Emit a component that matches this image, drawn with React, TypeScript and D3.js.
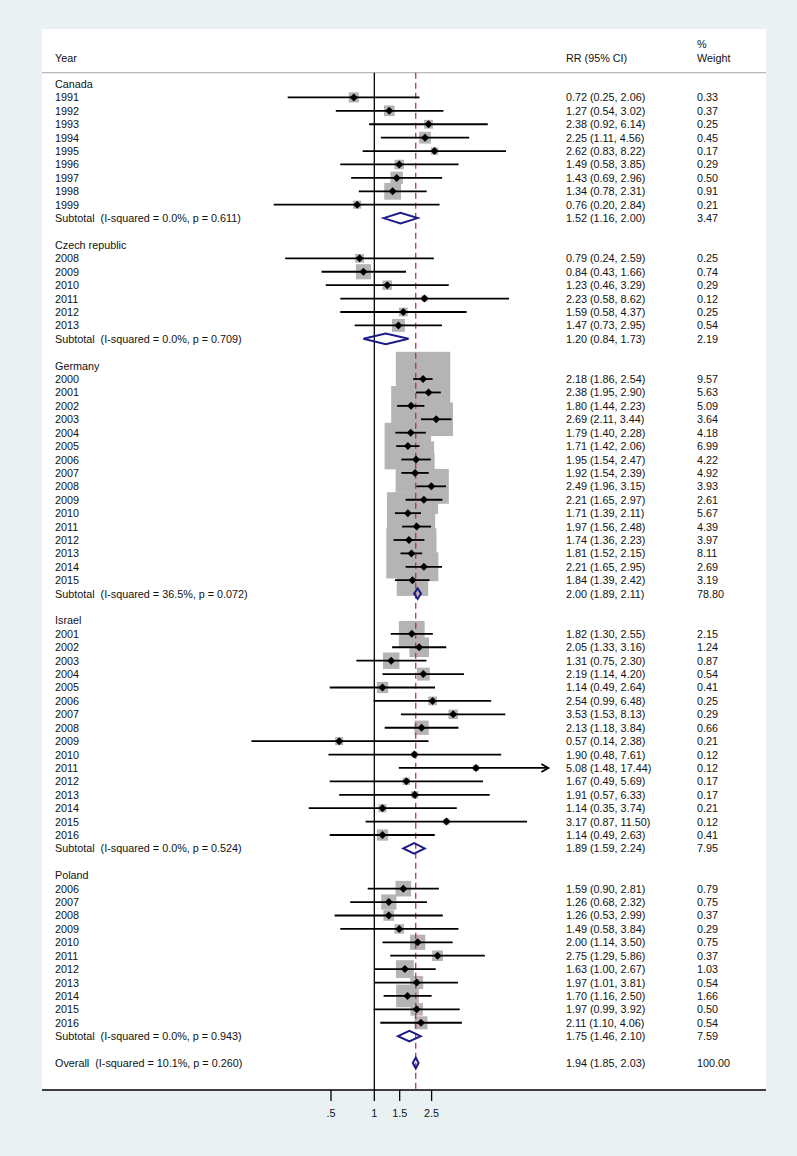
import React from "react";
import * as d3 from "d3";

type Study = { year: string; rr: number; lo: number; hi: number; w: number };
type Pooled = { label: string; rr: number; lo: number; hi: number; w: number };

const canada: Study[] = [
  { year: "1991", rr: 0.72, lo: 0.25, hi: 2.06, w: 0.33 },
  { year: "1992", rr: 1.27, lo: 0.54, hi: 3.02, w: 0.37 },
  { year: "1993", rr: 2.38, lo: 0.92, hi: 6.14, w: 0.25 },
  { year: "1994", rr: 2.25, lo: 1.11, hi: 4.56, w: 0.45 },
  { year: "1995", rr: 2.62, lo: 0.83, hi: 8.22, w: 0.17 },
  { year: "1996", rr: 1.49, lo: 0.58, hi: 3.85, w: 0.29 },
  { year: "1997", rr: 1.43, lo: 0.69, hi: 2.96, w: 0.5 },
  { year: "1998", rr: 1.34, lo: 0.78, hi: 2.31, w: 0.91 },
  { year: "1999", rr: 0.76, lo: 0.2, hi: 2.84, w: 0.21 },
];
const czech: Study[] = [
  { year: "2008", rr: 0.79, lo: 0.24, hi: 2.59, w: 0.25 },
  { year: "2009", rr: 0.84, lo: 0.43, hi: 1.66, w: 0.74 },
  { year: "2010", rr: 1.23, lo: 0.46, hi: 3.29, w: 0.29 },
  { year: "2011", rr: 2.23, lo: 0.58, hi: 8.62, w: 0.12 },
  { year: "2012", rr: 1.59, lo: 0.58, hi: 4.37, w: 0.25 },
  { year: "2013", rr: 1.47, lo: 0.73, hi: 2.95, w: 0.54 },
];
const germany: Study[] = [
  { year: "2000", rr: 2.18, lo: 1.86, hi: 2.54, w: 9.57 },
  { year: "2001", rr: 2.38, lo: 1.95, hi: 2.9, w: 5.63 },
  { year: "2002", rr: 1.8, lo: 1.44, hi: 2.23, w: 5.09 },
  { year: "2003", rr: 2.69, lo: 2.11, hi: 3.44, w: 3.64 },
  { year: "2004", rr: 1.79, lo: 1.4, hi: 2.28, w: 4.18 },
  { year: "2005", rr: 1.71, lo: 1.42, hi: 2.06, w: 6.99 },
  { year: "2006", rr: 1.95, lo: 1.54, hi: 2.47, w: 4.22 },
  { year: "2007", rr: 1.92, lo: 1.54, hi: 2.39, w: 4.92 },
  { year: "2008", rr: 2.49, lo: 1.96, hi: 3.15, w: 3.93 },
  { year: "2009", rr: 2.21, lo: 1.65, hi: 2.97, w: 2.61 },
  { year: "2010", rr: 1.71, lo: 1.39, hi: 2.11, w: 5.67 },
  { year: "2011", rr: 1.97, lo: 1.56, hi: 2.48, w: 4.39 },
  { year: "2012", rr: 1.74, lo: 1.36, hi: 2.23, w: 3.97 },
  { year: "2013", rr: 1.81, lo: 1.52, hi: 2.15, w: 8.11 },
  { year: "2014", rr: 2.21, lo: 1.65, hi: 2.95, w: 2.69 },
  { year: "2015", rr: 1.84, lo: 1.39, hi: 2.42, w: 3.19 },
];
const israel: Study[] = [
  { year: "2001", rr: 1.82, lo: 1.3, hi: 2.55, w: 2.15 },
  { year: "2002", rr: 2.05, lo: 1.33, hi: 3.16, w: 1.24 },
  { year: "2003", rr: 1.31, lo: 0.75, hi: 2.3, w: 0.87 },
  { year: "2004", rr: 2.19, lo: 1.14, hi: 4.2, w: 0.54 },
  { year: "2005", rr: 1.14, lo: 0.49, hi: 2.64, w: 0.41 },
  { year: "2006", rr: 2.54, lo: 0.99, hi: 6.48, w: 0.25 },
  { year: "2007", rr: 3.53, lo: 1.53, hi: 8.13, w: 0.29 },
  { year: "2008", rr: 2.13, lo: 1.18, hi: 3.84, w: 0.66 },
  { year: "2009", rr: 0.57, lo: 0.14, hi: 2.38, w: 0.21 },
  { year: "2010", rr: 1.9, lo: 0.48, hi: 7.61, w: 0.12 },
  { year: "2011", rr: 5.08, lo: 1.48, hi: 17.44, w: 0.12 },
  { year: "2012", rr: 1.67, lo: 0.49, hi: 5.69, w: 0.17 },
  { year: "2013", rr: 1.91, lo: 0.57, hi: 6.33, w: 0.17 },
  { year: "2014", rr: 1.14, lo: 0.35, hi: 3.74, w: 0.21 },
  { year: "2015", rr: 3.17, lo: 0.87, hi: 11.5, w: 0.12 },
  { year: "2016", rr: 1.14, lo: 0.49, hi: 2.63, w: 0.41 },
];
const poland: Study[] = [
  { year: "2006", rr: 1.59, lo: 0.9, hi: 2.81, w: 0.79 },
  { year: "2007", rr: 1.26, lo: 0.68, hi: 2.32, w: 0.75 },
  { year: "2008", rr: 1.26, lo: 0.53, hi: 2.99, w: 0.37 },
  { year: "2009", rr: 1.49, lo: 0.58, hi: 3.84, w: 0.29 },
  { year: "2010", rr: 2.0, lo: 1.14, hi: 3.5, w: 0.75 },
  { year: "2011", rr: 2.75, lo: 1.29, hi: 5.86, w: 0.37 },
  { year: "2012", rr: 1.63, lo: 1.0, hi: 2.67, w: 1.03 },
  { year: "2013", rr: 1.97, lo: 1.01, hi: 3.81, w: 0.54 },
  { year: "2014", rr: 1.7, lo: 1.16, hi: 2.5, w: 1.66 },
  { year: "2015", rr: 1.97, lo: 0.99, hi: 3.92, w: 0.5 },
  { year: "2016", rr: 2.11, lo: 1.1, hi: 4.06, w: 0.54 },
];

const groupNames = ["Canada", "Czech republic", "Germany", "Israel", "Poland"];
const groupStudies = [canada, czech, germany, israel, poland];
const subtotals: Pooled[] = [
  { label: "Subtotal  (I-squared = 0.0%, p = 0.611)", rr: 1.52, lo: 1.16, hi: 2.0, w: 3.47 },
  { label: "Subtotal  (I-squared = 0.0%, p = 0.709)", rr: 1.2, lo: 0.84, hi: 1.73, w: 2.19 },
  { label: "Subtotal  (I-squared = 36.5%, p = 0.072)", rr: 2.0, lo: 1.89, hi: 2.11, w: 78.8 },
  { label: "Subtotal  (I-squared = 0.0%, p = 0.524)", rr: 1.89, lo: 1.59, hi: 2.24, w: 7.95 },
  { label: "Subtotal  (I-squared = 0.0%, p = 0.943)", rr: 1.75, lo: 1.46, hi: 2.1, w: 7.59 },
];
const overall: Pooled = { label: "Overall  (I-squared = 10.1%, p = 0.260)", rr: 1.94, lo: 1.85, hi: 2.03, w: 100.0 };

const tickValues = [0.5, 1, 1.5, 2.5];
const tickLabels = [".5", "1", "1.5", "2.5"];
const axisMax = 16.2;

type Row =
  | { kind: "header"; label: string }
  | { kind: "study"; s: Study }
  | { kind: "pooled"; p: Pooled }
  | { kind: "blank" };

const rows: Row[] = [];
groupNames.forEach((g, i) => {
  rows.push({ kind: "header", label: g });
  groupStudies[i].forEach((s) => rows.push({ kind: "study", s }));
  rows.push({ kind: "pooled", p: subtotals[i] });
  rows.push({ kind: "blank" });
});
rows.push({ kind: "pooled", p: overall });

const W = 797;
const H = 1156;
const panel = { x0: 42, x1: 766, y0: 29, y1: 1090 };
const FONT = "'Liberation Sans', Arial, sans-serif";
const FS = 10.8;

export default function App() {
  const x = d3.scaleLog().domain([0.5, 2.5]).range([331, 431.6]);
  const y = d3.scaleLinear().domain([0, rows.length - 1]).range([84, 1063]);
  const f2 = d3.format(".2f");
  const boxK = 17.6;
  const xMax = x(axisMax);
  const headerLineY = 72.7;
  const colYear = 55;
  const colRR = 566;
  const colW = 697;
  const ciText = (r: number, lo: number, hi: number) => `${f2(r)} (${f2(lo)}, ${f2(hi)})`;

  const textProps = {
    fontFamily: FONT,
    fontSize: FS,
    fill: "#111",
    dominantBaseline: "central" as const,
    style: { whiteSpace: "pre" as const },
  };

  return (
    <svg width={W} height={H} style={{ position: "absolute", left: 0, top: 0, display: "block" }}>
      <rect x={0} y={0} width={W} height={H} fill="#e9f1f3" />
      <rect x={panel.x0} y={panel.y0} width={panel.x1 - panel.x0} height={panel.y1 - panel.y0} fill="#ffffff" />

      {/* header */}
      <text {...textProps} x={colYear} y={57.5}>Year</text>
      <text {...textProps} x={colRR} y={57.5}>RR (95% CI)</text>
      <text {...textProps} x={colW} y={44}>%</text>
      <text {...textProps} x={colW} y={57.5}>Weight</text>
      <line x1={panel.x0} x2={panel.x1} y1={headerLineY} y2={headerLineY} stroke="#b8b8b8" strokeWidth={1.3} />

      {/* boxes */}
      {rows.map((r, i) => {
        if (r.kind !== "study") return null;
        const side = boxK * Math.sqrt(r.s.w);
        return (
          <rect key={"b" + i} x={x(r.s.rr) - side / 2} y={y(i) - side / 2} width={side} height={side} fill="#b4b4b4" />
        );
      })}

      {/* reference lines */}
      <line x1={x(1)} x2={x(1)} y1={headerLineY} y2={panel.y1} stroke="#000" strokeWidth={1.3} />
      <line
        x1={x(overall.rr)}
        x2={x(overall.rr)}
        y1={headerLineY}
        y2={panel.y1}
        stroke="#b02a33"
        strokeWidth={1.2}
        strokeDasharray="6,4"
      />

      {/* CIs and points */}
      {rows.map((r, i) => {
        if (r.kind !== "study") return null;
        const yy = y(i);
        const clipped = r.s.hi > axisMax;
        const x2 = clipped ? xMax : x(r.s.hi);
        const cx = x(r.s.rr);
        const m = 4;
        return (
          <g key={"c" + i}>
            <line x1={x(r.s.lo)} x2={x2} y1={yy} y2={yy} stroke="#000" strokeWidth={1.8} />
            {clipped && (
              <path
                d={`M${x2 - 7},${yy - 4} L${x2},${yy} L${x2 - 7},${yy + 4}`}
                fill="none"
                stroke="#000"
                strokeWidth={1.8}
              />
            )}
            <path d={`M${cx},${yy - m} L${cx + m},${yy} L${cx},${yy + m} L${cx - m},${yy} Z`} fill="#000" />
          </g>
        );
      })}

      {/* pooled diamonds */}
      {rows.map((r, i) => {
        if (r.kind !== "pooled") return null;
        const yy = y(i);
        const h = 5.3;
        return (
          <path
            key={"d" + i}
            d={`M${x(r.p.lo)},${yy} L${x(r.p.rr)},${yy - h} L${x(r.p.hi)},${yy} L${x(r.p.rr)},${yy + h} Z`}
            fill="none"
            stroke="#1c1c86"
            strokeWidth={2}
          />
        );
      })}

      {/* text columns */}
      {rows.map((r, i) => {
        const yy = y(i);
        if (r.kind === "header") return <text key={"t" + i} {...textProps} x={colYear} y={yy}>{r.label}</text>;
        if (r.kind === "study")
          return (
            <g key={"t" + i}>
              <text {...textProps} x={colYear} y={yy}>{r.s.year}</text>
              <text {...textProps} x={colRR} y={yy}>{ciText(r.s.rr, r.s.lo, r.s.hi)}</text>
              <text {...textProps} x={colW} y={yy}>{f2(r.s.w)}</text>
            </g>
          );
        if (r.kind === "pooled")
          return (
            <g key={"t" + i}>
              <text {...textProps} x={colYear} y={yy}>{r.p.label}</text>
              <text {...textProps} x={colRR} y={yy}>{ciText(r.p.rr, r.p.lo, r.p.hi)}</text>
              <text {...textProps} x={colW} y={yy}>{f2(r.p.w)}</text>
            </g>
          );
        return null;
      })}

      {/* x axis */}
      <line x1={panel.x0} x2={panel.x1} y1={panel.y1} y2={panel.y1} stroke="#000" strokeWidth={1.6} />
      {tickValues.map((t, i) => (
        <g key={"k" + i}>
          <line x1={x(t)} x2={x(t)} y1={panel.y1} y2={panel.y1 + 11} stroke="#000" strokeWidth={1.3} />
          <text {...textProps} x={x(t)} y={1112.5} textAnchor="middle">{tickLabels[i]}</text>
        </g>
      ))}
    </svg>
  );
}
